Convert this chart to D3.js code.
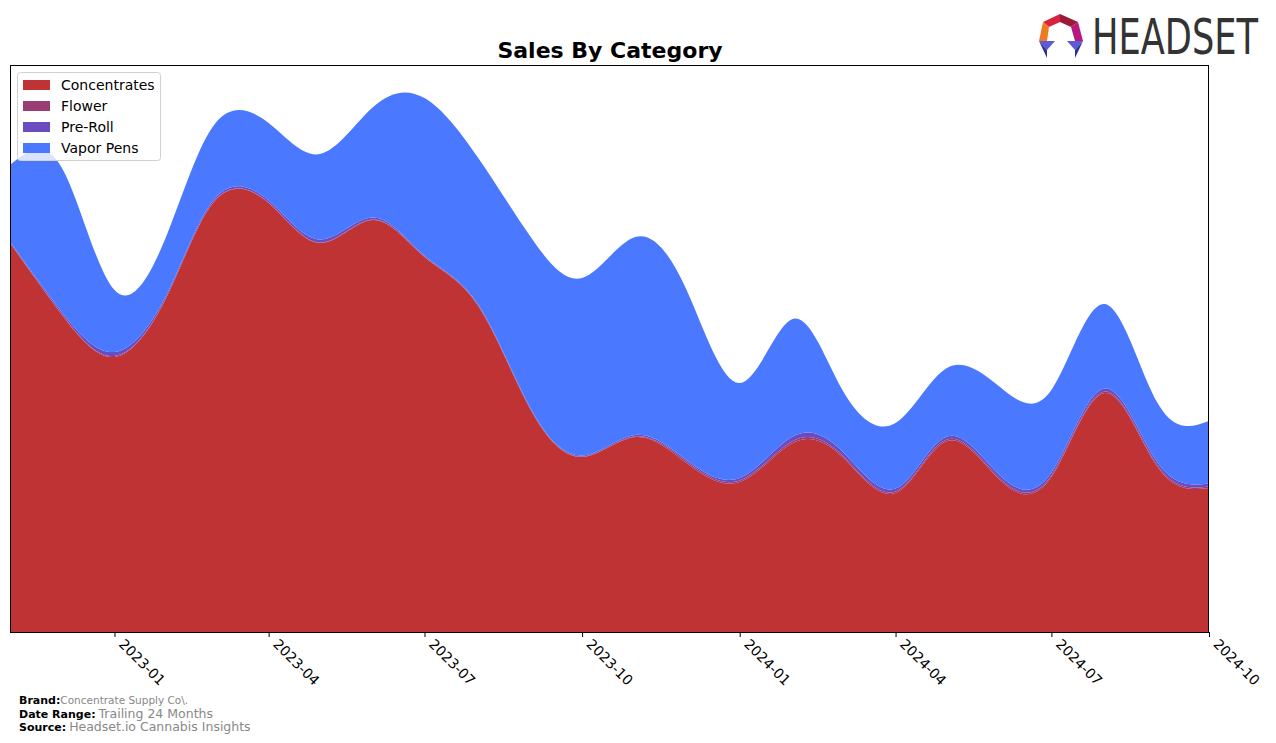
<!DOCTYPE html>
<html>
<head>
<meta charset="utf-8">
<script src="https://cdn.jsdelivr.net/npm/d3@7"></script>
<style>
  html, body { margin: 0; padding: 0; background: #fff; }
  svg { display: block; }
</style>
</head>
<body>
<svg id="chart" width="1276" height="743"></svg>
<script>
const months = ["2022-11","2022-12","2023-01","2023-02","2023-03","2023-04","2023-05","2023-06",
  "2023-07","2023-08","2023-09","2023-10","2023-11","2023-12","2024-01","2024-02","2024-03",
  "2024-04","2024-05","2024-06","2024-07","2024-08","2024-09","2024-10"];
const categories = ["Concentrates", "Flower", "Pre-Roll", "Vapor Pens"];
const concentrates = [389, 318, 275, 337, 432, 429, 389, 412, 375, 327, 222, 175, 195, 169, 150, 189, 175, 139, 191, 152, 155, 239, 165, 144];
const flower       = [0.5, 0.5, 1, 0.5, 0.5, 0.5, 0.5, 0.5, 0.5, 0.5, 0.5, 0.5, 0.5, 1.5, 1.5, 2, 1.5, 1.5, 1.5, 1.5, 1.5, 1.5, 1.5, 1.5];
const preRoll      = [1, 2, 4, 2, 2, 2, 3, 2, 1, 1, 1, 1, 1.5, 1.5, 2.5, 4.5, 4, 3, 3, 3, 3, 3, 3, 3];
const vaporPens    = [76.5, 144.5, 62, 59.5, 74.5, 77.5, 85.5, 110.5, 157.5, 146.5, 171.5, 177.5, 198, 170, 95, 117.5, 61.5, 65.5, 68.5, 88.5, 82.5, 84.5, 59.5, 62.5];
const tickLabels = ["2023-01","2023-04","2023-07","2023-10","2024-01","2024-04","2024-07","2024-10"];
const colors = ["#c03334", "#993e74", "#6a4cc0", "#4a78ff"];

const parse = d3.utcParse("%Y-%m");
const rows = months.map((m, i) => ({
  date: parse(m),
  "Concentrates": concentrates[i],
  "Flower": flower[i],
  "Pre-Roll": preRoll[i],
  "Vapor Pens": vaporPens[i]
}));

const svg = d3.select("#chart");
const L = 10, R = 1209, T = 65, B = 632;

const x = d3.scaleUtc().domain([parse(months[0]), parse(months[months.length - 1])]).range([L, R]);
const y = d3.scaleLinear().domain([0, 567]).range([B, T]);

const stack = d3.stack().keys(categories);
const series = stack(rows);

svg.append("defs").append("clipPath").attr("id", "clip")
  .append("rect").attr("x", L).attr("y", T).attr("width", R - L).attr("height", B - T);

const area = d3.area()
  .x(d => x(d.data.date))
  .y0(d => y(d[0]))
  .y1(d => y(d[1]))
  .curve(d3.curveNatural);

svg.append("g").attr("clip-path", "url(#clip)")
  .selectAll("path").data(series).join("path")
  .attr("d", area)
  .attr("fill", (d, i) => colors[i]);

// frame
svg.append("rect").attr("x", L + 0.5).attr("y", T + 0.5).attr("width", R - L - 1).attr("height", B - T)
  .attr("fill", "none").attr("stroke", "#000").attr("stroke-width", 1);

// x axis
const xAxis = d3.axisBottom(x)
  .tickValues(tickLabels.map(parse))
  .tickFormat(d3.utcFormat("%Y-%m"))
  .tickSize(5)
  .tickPadding(4);
const gx = svg.append("g").attr("transform", `translate(0,${B})`).call(xAxis);
gx.select(".domain").remove();
gx.selectAll(".tick line").attr("stroke", "#000");
gx.selectAll(".tick text")
  .attr("font-family", "DejaVu Sans")
  .attr("font-size", 14)
  .attr("fill", "#000")
  .attr("text-anchor", "start")
  .attr("dy", null)
  .attr("y", 0)
  .attr("transform", "translate(3,13) rotate(45)");

// title
svg.append("text").attr("x", 610).attr("y", 58).attr("text-anchor", "middle")
  .attr("font-family", "DejaVu Sans").attr("font-weight", "bold").attr("font-size", 22)
  .text("Sales By Category");

// legend
const lg = svg.append("g");
lg.append("rect").attr("x", 17.5).attr("y", 72.5).attr("width", 143).attr("height", 88)
  .attr("rx", 3).attr("fill", "#fff").attr("fill-opacity", 0.8).attr("stroke", "#d0d0d0");
categories.forEach((c, i) => {
  const yy = 85 + i * 21;
  lg.append("rect").attr("x", 23).attr("y", yy - 5).attr("width", 27).attr("height", 10).attr("fill", colors[i]);
  lg.append("text").attr("x", 61).attr("y", yy + 5).attr("font-family", "DejaVu Sans")
    .attr("font-size", 14).attr("fill", "#000").text(c);
});

// footer
const foot = [
  ["Brand:", "Concentrate Supply Co\\.", 704, 10.5],
  ["Date Range:", "Trailing 24 Months", 718, 12.5],
  ["Source:", "Headset.io Cannabis Insights", 731, 12.5]
];
foot.forEach(([k, v, yy, fs]) => {
  const t = svg.append("text").attr("x", 19).attr("y", yy).attr("font-family", "DejaVu Sans");
  t.append("tspan").attr("font-weight", "bold").attr("font-size", 11).attr("fill", "#000").text(k);
  t.append("tspan").attr("font-size", fs).attr("fill", "#888").attr("dx", k === "Brand:" ? 0 : 3).text(v);
});

// logo
const logo = svg.append("g");
const polys = [
  [[[1060,14],[1060,22],[1049,27],[1043,22]], "#d8233f"],
  [[[1060,14],[1078,22],[1071,27],[1060,22]], "#9e1838"],
  [[[1043,22],[1049,27],[1047,41],[1039,41]], "#f07a22"],
  [[[1078,22],[1083,41],[1075,41],[1071,27]], "#b8197c"],
  [[[1039,41],[1055,41],[1047,50]], "#5b5ad8"],
  [[[1039,41],[1047,50],[1047,58]], "#2d3090"],
  [[[1067,41],[1083,41],[1075,50]], "#5b5ad8"],
  [[[1083,41],[1075,50],[1075,58]], "#2d3090"]
];
polys.forEach(([pts, c]) => {
  logo.append("polygon").attr("points", pts.map(p => p.join(",")).join(" ")).attr("fill", c);
});
logo.append("g").attr("transform", "translate(1092,54) scale(1,1.2)")
  .append("text").attr("x", 0).attr("y", 0)
  .attr("font-family", "Liberation Sans Narrow, DejaVu Sans Condensed, sans-serif")
  .attr("font-size", 42).attr("fill", "#333")
  .attr("textLength", 166).attr("lengthAdjust", "spacingAndGlyphs")
  .text("HEADSET");
</script>
</body>
</html>
